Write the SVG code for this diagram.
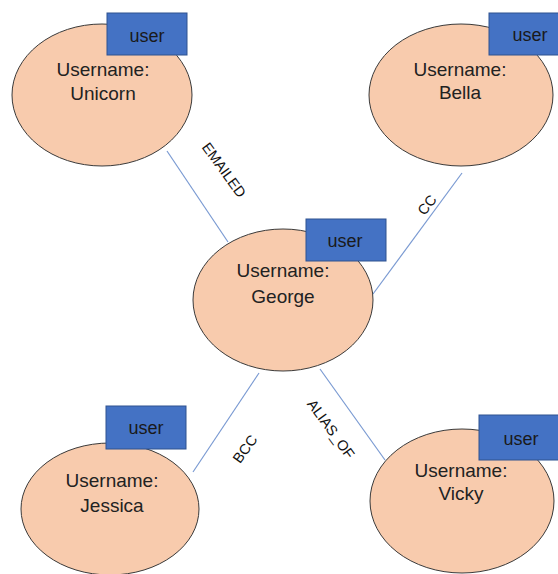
<svg xmlns="http://www.w3.org/2000/svg" width="558" height="574" viewBox="0 0 558 574">
  <style>
    .node ellipse { fill: #F8CBAD; stroke: #3A3A3A; stroke-width: 1; }
    .node rect { fill: #4472C4; stroke: #2F528F; stroke-width: 1; }
    .name { font-family: "Liberation Sans", Arial, sans-serif; font-size: 19px; fill: #222222; text-anchor: middle; }
    .tag { font-family: "Liberation Sans", Arial, sans-serif; font-size: 18px; fill: #1A1A1A; text-anchor: middle; }
    .edge { stroke: #7A9AD2; stroke-width: 1.2; fill: none; }
    .elabel { font-family: "Liberation Sans", Arial, sans-serif; font-size: 14.5px; fill: #111111; text-anchor: middle; }
  </style>
  <rect width="558" height="574" fill="#FFFFFF"/>

  <g id="connectors">
    <line class="edge" x1="167" y1="151" x2="228" y2="242"/>
    <line class="edge" x1="462" y1="173" x2="373" y2="294"/>
    <line class="edge" x1="259" y1="373" x2="193" y2="472"/>
    <line class="edge" x1="320" y1="369" x2="385" y2="460"/>
    <text class="elabel" transform="translate(224,170) rotate(54)" dy="5">EMAILED</text>
    <text class="elabel" transform="translate(427,205) rotate(-52)" dy="5">CC</text>
    <text class="elabel" transform="translate(245,449) rotate(-54)" dy="5">BCC</text>
    <text class="elabel" transform="translate(331,429) rotate(54)" dy="5">ALIAS_OF</text>
  </g>

  <g id="unicorn" class="node">
    <ellipse cx="102" cy="95" rx="90" ry="71"/>
    <rect x="107" y="13" width="80" height="42"/>
    <text class="tag" x="147" y="42">user</text>
    <text class="name" x="103" y="76">Username:</text>
    <text class="name" x="103" y="100">Unicorn</text>
  </g>

  <g id="bella" class="node">
    <ellipse cx="461" cy="95" rx="92" ry="71"/>
    <rect x="489" y="13" width="75" height="42"/>
    <text class="tag" x="530" y="41">user</text>
    <text class="name" x="460" y="76">Username:</text>
    <text class="name" x="460" y="99">Bella</text>
  </g>

  <g id="george" class="node">
    <ellipse cx="283" cy="300" rx="90" ry="71"/>
    <rect x="306" y="219" width="80" height="42"/>
    <text class="tag" x="345" y="247">user</text>
    <text class="name" x="283" y="277">Username:</text>
    <text class="name" x="283" y="303">George</text>
  </g>

  <g id="jessica" class="node">
    <ellipse cx="110" cy="509" rx="89" ry="66"/>
    <rect x="106" y="406" width="80" height="43"/>
    <text class="tag" x="146" y="434">user</text>
    <text class="name" x="112" y="487">Username:</text>
    <text class="name" x="112" y="512">Jessica</text>
  </g>

  <g id="vicky" class="node">
    <ellipse cx="462" cy="501" rx="92" ry="72"/>
    <rect x="479" y="415" width="85" height="45"/>
    <text class="tag" x="521" y="445">user</text>
    <text class="name" x="461" y="477">Username:</text>
    <text class="name" x="461" y="500">Vicky</text>
  </g>
</svg>
